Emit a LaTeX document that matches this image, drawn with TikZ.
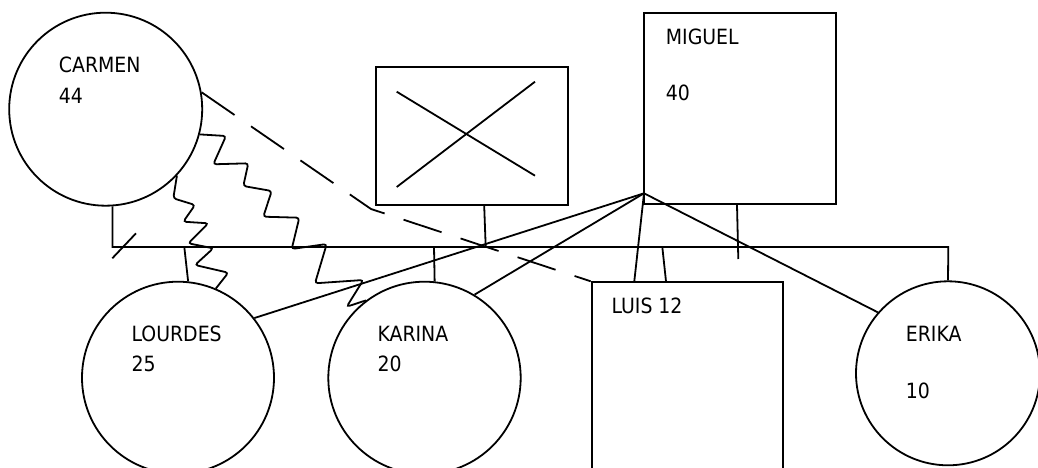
\documentclass[tikz,border=0pt]{standalone}
\usepackage{fontspec}
\setmainfont{DejaVu Sans Condensed}
\usetikzlibrary{calc}
\begin{document}
\begin{tikzpicture}[x=1pt,y=-1pt,line width=1.8pt,
  person/.style={circle,draw,inner sep=0pt},
  male/.style={rectangle,draw,inner sep=0pt},
  lbl/.style={anchor=base west,inner sep=0pt,font=\fontsize{21}{25}\selectfont},
  zig/.style={rounded corners=3pt},
  dashrel/.style={dash pattern=on 40pt off 20pt}]
\useasboundingbox (0,0) rectangle (1038,468);
\clip (0,0) rectangle (1038,468);
% people
\node[person,minimum size=193pt] (carmen) at (105.7,109.2) {};
\node[male,minimum width=192.3pt,minimum height=138.3pt] (unk) at (472.2,135.9) {};
\node[male,minimum width=192pt,minimum height=191pt] (miguel) at (740,108.8) {};
\node[person,minimum size=192pt] (lourdes) at (178,377.7) {};
\node[person,minimum size=192.4pt] (karina) at (424.5,377.9) {};
\node[male,minimum width=191.3pt,minimum height=240pt,anchor=north west] (luis) at (590.7,281.3) {};
\node[person,minimum size=184pt] (erika) at (948,373.3) {};
% labels
\node[lbl] (tc1) at (58,73) {CARMEN};
\node[lbl] (tc2) at (58,103) {44};
\node[lbl] (tm1) at (665,45) {MIGUEL};
\node[lbl] (tm2) at (665,101) {40};
\node[lbl] (tl1) at (130.7,341) {LOURDES};
\node[lbl] (tl2) at (130.7,371) {25};
\node[lbl] (tk1) at (376.7,341) {KARINA};
\node[lbl] (tk2) at (376.7,371) {20};
\node[lbl] (tu1) at (610.7,313.3) {LUIS 12};
\node[lbl] (te1) at (905,341) {ERIKA};
\node[lbl] (te2) at (905,398.3) {10};
% cross in unknown box
\draw (396.7,91.7) -- (535,175.7);
\draw (396.7,187) -- (535,81.7);
% coordinates
\coordinate (sibR) at (948.3,247);
\coordinate (mp) at (644,193.3);
\coordinate (mdrop) at (738.3,259);
\coordinate (udrop) at (485.7,247);
% sibling line
\draw (carmen.-86.4) -- (carmen.-86.4 |- sibR) -- (sibR) -- (erika.north);
\draw (112.3,258.3) -- (136,233.3);
% drops
\draw ($(unk.south)+(12,0)$) -- (udrop);
\draw ($(miguel.south)+(-3,0)$) -- (mdrop);
\draw (184.3,247) -- (lourdes.84);
\draw (434,247) -- (karina.84.3);
\draw (662.3,247) -- ($(luis.north west)+(75.3,0)$);
% lines from Miguel
\draw (mp) -- (lourdes.38.1);
\draw (mp) -- (karina.59.5);
\draw (mp) -- ($(luis.north west)+(43.6,0)$);
\draw (mp) -- (erika.139.1);
% dashed
\draw[dashrel] (carmen.10.2) -- (371,209) -- (luis.north west);
% zigzags
\draw[zig] (carmen.-15.3) -- (226,136) -- (213.3,164.3) -- (248.3,163.3) -- (243.3,186) -- (271.7,191) -- (263.3,216.7) -- (299.3,217.7) -- (291.7,249) -- (326.7,244) -- (315,283.3) -- (363.3,280) -- (346.7,306.7) -- (karina.127.2);
\draw[zig] (carmen.-43.6) -- (173.3,198.3) -- (195,205) -- (183.3,221.7) -- (208.3,223.3) -- (188.3,243.3) -- (213.3,248.3) -- (195,265) -- (228.3,272.7) -- (lourdes.67.5);
\end{tikzpicture}
\end{document}
